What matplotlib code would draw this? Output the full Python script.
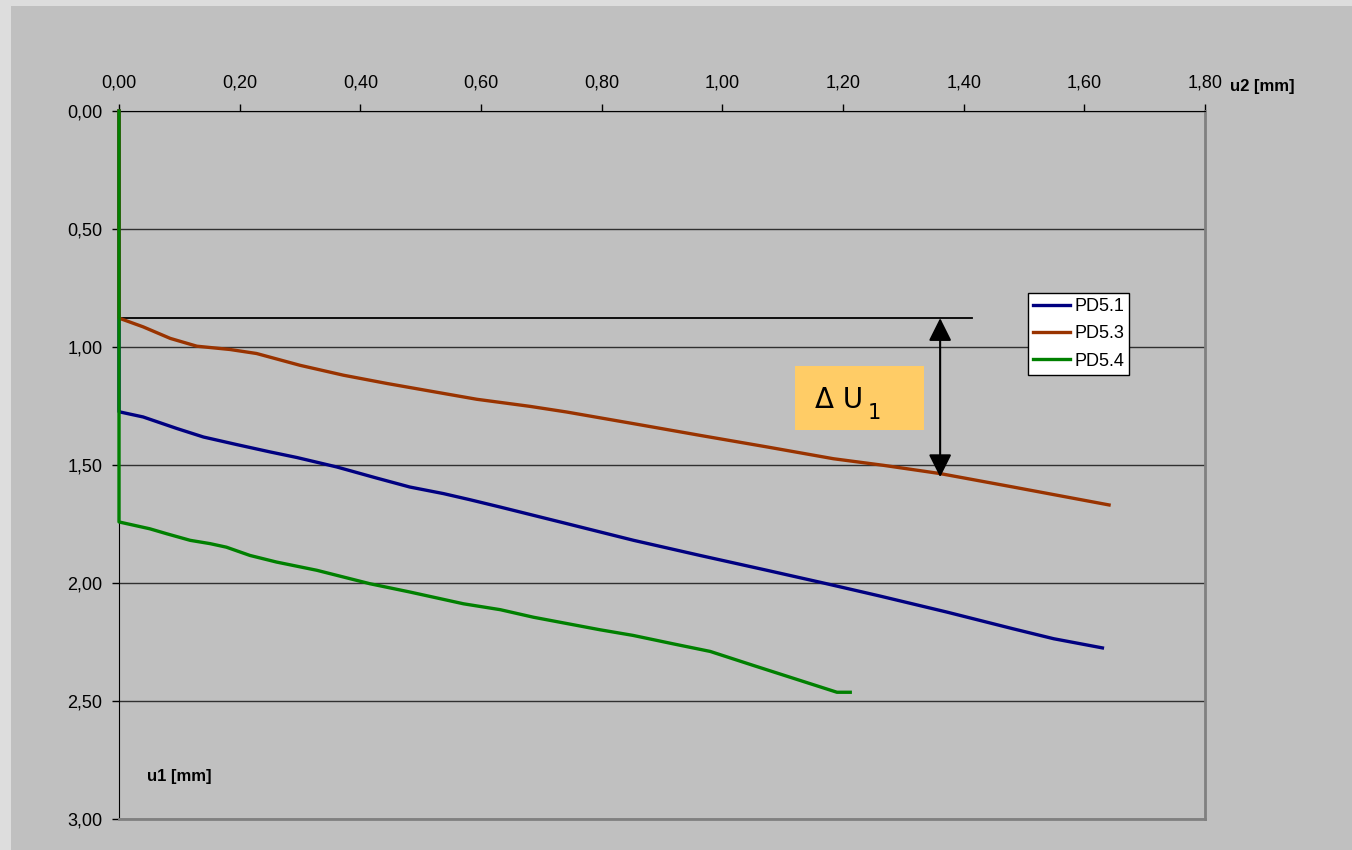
import matplotlib.pyplot as plt
from matplotlib.patches import Rectangle
from matplotlib.ticker import FuncFormatter

plt.rcParams['font.family'] = ['Liberation Sans', 'DejaVu Sans']

# measured displacement curves, u2 (horizontal) vs u1 (vertical, downwards)
pd51_u2 = [0.0, 0.0, 0.002, 0.040, 0.096, 0.140, 0.195, 0.250, 0.295, 0.361, 0.427, 0.482,
           0.538, 0.582, 0.632, 0.742, 0.853, 0.963, 1.074, 1.173, 1.261, 1.372, 1.482,
           1.549, 1.630]
pd51_u1 = [0.0, 1.275, 1.276, 1.297, 1.346, 1.382, 1.414, 1.445, 1.469, 1.509, 1.556, 1.594,
           1.622, 1.648, 1.679, 1.749, 1.820, 1.884, 1.947, 2.004, 2.056, 2.124, 2.195,
           2.237, 2.276]

pd53_u2 = [0.0, 0.0, 0.040, 0.085, 0.129, 0.184, 0.228, 0.300, 0.372, 0.444, 0.515, 0.593,
           0.681, 0.742, 0.852, 0.963, 1.074, 1.184, 1.267, 1.361, 1.482, 1.641]
pd53_u1 = [0.0, 0.878, 0.915, 0.964, 0.997, 1.011, 1.028, 1.078, 1.120, 1.155, 1.187, 1.222,
           1.252, 1.276, 1.325, 1.375, 1.424, 1.474, 1.502, 1.537, 1.594, 1.670]

pd54_u2 = [0.0, 0.0, 0.051, 0.079, 0.118, 0.151, 0.178, 0.217, 0.261, 0.328, 0.416, 0.482,
           0.571, 0.632, 0.687, 0.797, 0.852, 0.919, 0.980, 1.051, 1.129, 1.190, 1.212]
pd54_u1 = [0.0, 1.742, 1.771, 1.792, 1.820, 1.834, 1.849, 1.884, 1.912, 1.947, 2.004, 2.039,
           2.089, 2.114, 2.146, 2.199, 2.223, 2.259, 2.291, 2.350, 2.414, 2.464, 2.464]

# reference level and measured offset
ref_u1 = 0.878
ref_end = 1.414
arrow_u2 = 1.361
arrow_u1 = 1.552

fig = plt.figure(figsize=(13.52, 8.5), dpi=100, facecolor='#DDDDDD')
fig.patches.append(Rectangle((11 / 1352, 0), 1, (850 - 6) / 850, transform=fig.transFigure,
                             facecolor='#C0C0C0', edgecolor='none', zorder=-5))

ax = fig.add_axes([119 / 1352, 1 - 818.7 / 850, 1086 / 1352, 707.7 / 850])
ax.set_facecolor('#C0C0C0')

ax.plot(pd51_u2, pd51_u1, color='#000080', lw=2.4, label='PD5.1', zorder=3, clip_on=False)
ax.plot(pd53_u2, pd53_u1, color='#993300', lw=2.4, label='PD5.3', zorder=3, clip_on=False)
ax.plot(pd54_u2, pd54_u1, color='#008000', lw=2.4, label='PD5.4', zorder=3, clip_on=False)

ax.set_xlim(0, 1.8)
ax.set_ylim(3.0, 0.0)
ax.set_xticks([i * 0.2 for i in range(10)])
ax.set_yticks([i * 0.5 for i in range(7)])
fmt = FuncFormatter(lambda v, p: f'{v:.2f}'.replace('.', ','))
ax.xaxis.set_major_formatter(fmt)
ax.yaxis.set_major_formatter(fmt)
ax.xaxis.tick_top()
ax.tick_params(axis='x', direction='out', length=5, width=1, pad=9, labelsize=13)
ax.tick_params(axis='y', direction='out', length=5, width=1, pad=7, labelsize=13)
ax.grid(axis='y', color='#303030', lw=1.0)
ax.set_axisbelow(True)

ax.spines['left'].set_color('black')
ax.spines['top'].set_color('black')
ax.spines['right'].set_color('#808080')
ax.spines['bottom'].set_color('#808080')
ax.spines['right'].set_linewidth(2)
ax.spines['bottom'].set_linewidth(2)

# reference line, offset arrow and label
ax.plot([0, ref_end], [ref_u1, ref_u1], color='black', lw=1.3, zorder=2, clip_on=False)
ax.annotate('', xy=(arrow_u2, ref_u1), xytext=(arrow_u2, arrow_u1),
            arrowprops=dict(arrowstyle='<|-|>,head_length=1.4,head_width=0.7',
                            mutation_scale=10, color='black', lw=1.5,
                            shrinkA=0, shrinkB=0), zorder=4)
ax.add_patch(Rectangle((1.1205, 1.081), 0.2135, 0.271, facecolor='#FFCC66',
                       edgecolor='none', zorder=4))
ax.text(1.154, 1.226, 'Δ U', fontsize=20, family=['DejaVu Sans'], va='center',
        ha='left', zorder=5)
ax.text(1.241, 1.282, '1', fontsize=15, family=['DejaVu Sans'], va='center',
        ha='left', zorder=5)

fig.text(1262 / 1352, 1 - 87 / 850, 'u2 [mm]', fontsize=12, fontweight='bold',
         ha='center', va='center')
fig.text(147 / 1352, 1 - 777 / 850, 'u1 [mm]', fontsize=12, fontweight='bold',
         ha='left', va='center')

leg = ax.legend(loc='upper left', bbox_to_anchor=(1028 / 1352, 1 - 292.7 / 850),
                bbox_transform=fig.transFigure, fontsize=13, frameon=True,
                fancybox=False, framealpha=1, facecolor='white', edgecolor='black',
                handlelength=2.0, handletextpad=0.25, labelspacing=0.57,
                borderpad=0.3, borderaxespad=0)
leg.get_frame().set_linewidth(1)

fig.savefig('out.png', dpi=100, facecolor=fig.get_facecolor())
